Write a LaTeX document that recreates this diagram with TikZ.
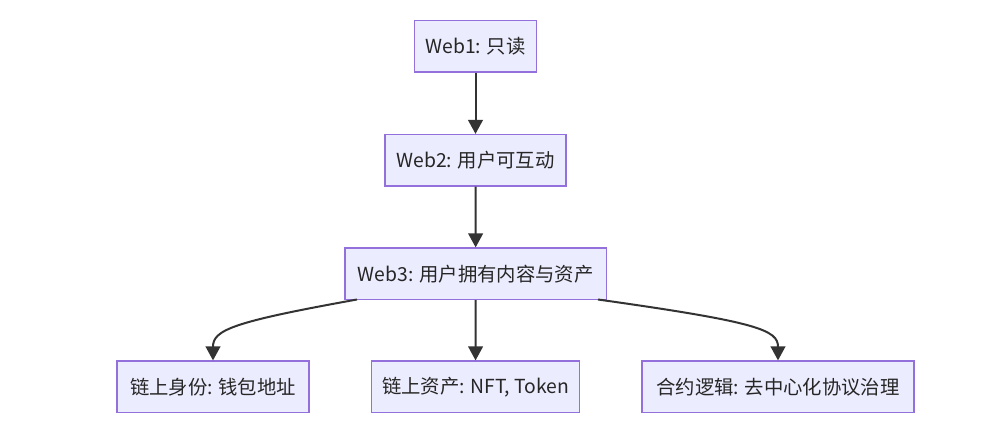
\documentclass[tikz,border=0pt]{standalone}
\usepackage{fontspec}
\setmainfont{Noto Sans CJK SC}
\usetikzlibrary{arrows.meta}
\definecolor{boxfill}{HTML}{ECECFF}
\definecolor{boxdraw}{HTML}{9370DB}
\definecolor{edgec}{HTML}{333333}
\tikzset{
  box/.style={draw=boxdraw, fill=boxfill, line width=1.1pt, inner sep=0pt,
    minimum height=38.5pt, font=\fontsize{14.5pt}{17pt}\selectfont, text=black!85},
  edge/.style={draw=edgec, line width=1.5pt, -{Triangle[length=10.5pt,width=11pt]}}
}
\begin{document}
\begin{tikzpicture}[x=0.75pt,y=-0.75pt]
\useasboundingbox (0,0) rectangle (986,440);
\node[box, minimum width=91.5pt] (w1) at (475.5,46.3) {Web1: 只读};
\node[box, minimum width=135.5pt] (w2) at (475.5,160.3) {Web2: 用户可互动};
\node[box, minimum width=196pt] (w3) at (475.7,273.8) {Web3: 用户拥有内容与资产};
\node[box, minimum width=144pt] (a) at (213,386.8) {链上身份: 钱包地址};
\node[box, minimum width=156pt] (b) at (475.5,386.8) {链上资产: NFT, Token};
\node[box, minimum width=204pt] (c) at (778,386.8) {合约逻辑: 去中心化协议治理};
\draw[edge] (w1) -- (w2);
\draw[edge] (w2) -- (w3);
\draw[edge] (w3) -- (b);
\draw[edge] (357,299.5) .. controls (232,322) and (213,330) .. (a.north);
\draw[edge] (598,299.5) .. controls (758,322) and (778,330) .. (c.north);
\end{tikzpicture}
\end{document}
